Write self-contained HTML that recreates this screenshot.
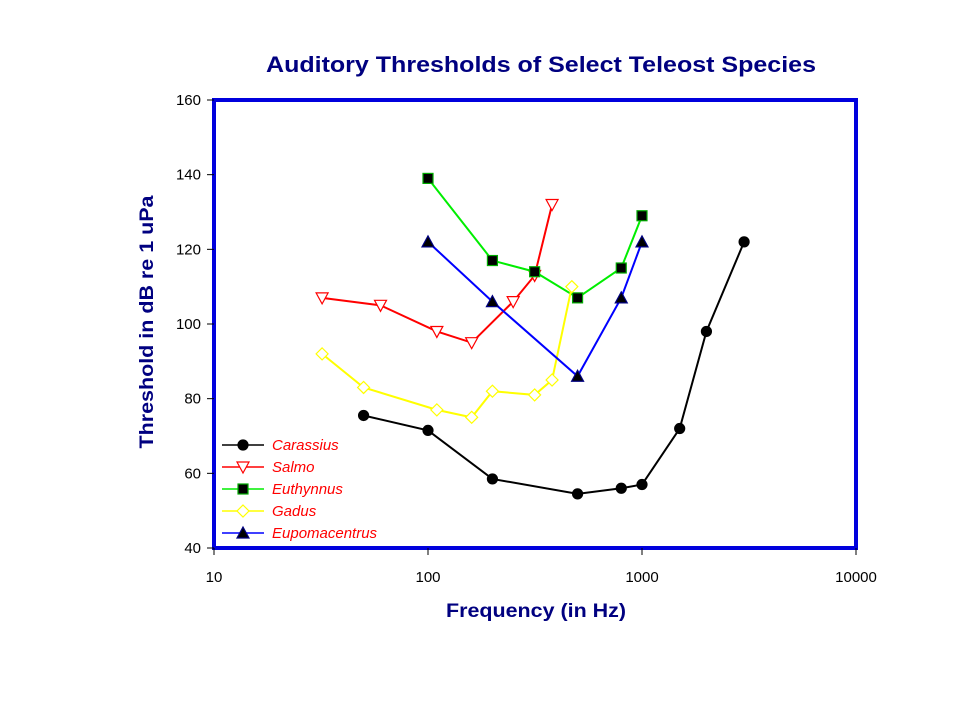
<!DOCTYPE html>
<html><head><meta charset="utf-8"><style>
body{margin:0;background:#fff;}
svg{display:block;font-family:"Liberation Sans",Arial,sans-serif;}
</style></head><body>
<svg id="chart" width="960" height="720">
<text x="541" y="72" text-anchor="middle" font-size="22" font-weight="bold" fill="#000080" textLength="550" lengthAdjust="spacingAndGlyphs">Auditory Thresholds of Select Teleost Species</text>
<text x="536" y="617" text-anchor="middle" font-size="19" font-weight="bold" fill="#000080" textLength="180" lengthAdjust="spacingAndGlyphs">Frequency (in Hz)</text>
<text transform="translate(153,322) rotate(-90)" text-anchor="middle" font-size="19" font-weight="bold" fill="#000080" textLength="253" lengthAdjust="spacingAndGlyphs">Threshold in dB re 1 uPa</text>
<rect x="214" y="100" width="642" height="448" fill="none" stroke="#0000dd" stroke-width="4"/>
<g id="axes"></g><g id="series"></g><g id="legend"></g>
</svg>
<script>
const xTicks=[10,100,1000,10000];
const yTicks=[40,60,80,100,120,140,160];
const seriesNames=["Carassius","Salmo","Euthynnus","Gadus","Eupomacentrus"];
const carassiusF=[50,100,200,500,800,1000,1500,2000,3000];
const carassiusV=[75.5,71.5,58.5,54.5,56,57,72,98,122];
const salmoF=[32,60,110,160,250,315,380];
const salmoV=[107,105,98,95,106,113,132];
const euthynnusF=[100,200,315,500,800,1000];
const euthynnusV=[139,117,114,107,115,129];
const gadusF=[32,50,110,160,200,315,380,470];
const gadusV=[92,83,77,75,82,81,85,110];
const eupoF=[100,200,500,800,1000];
const eupoV=[122,106,86,107,122];

const NS="http://www.w3.org/2000/svg";
const X=f=>214+214*(Math.log10(f)-1);
const Y=v=>548-(v-40)*448/120;
function mk(t,a,p){const e=document.createElementNS(NS,t);for(const k in a)e.setAttribute(k,a[k]);p.appendChild(e);return e;}
const ax=document.getElementById('axes');
xTicks.forEach(t=>{
  const l=mk('line',{x1:X(t),x2:X(t),y1:548,y2:555,stroke:'#000'},ax);
  
  
  const tx=mk('text',{x:X(t),y:582,'text-anchor':'middle','font-size':15},ax);tx.textContent=t;
  
  
});
yTicks.forEach(t=>{
  const l=mk('line',{x1:207,x2:214,y1:Y(t),y2:Y(t),stroke:'#000'},ax);
  
  
  const tx=mk('text',{x:201,y:Y(t)+5,'text-anchor':'end','font-size':15},ax);tx.textContent=t;
  
  
});
const styles=[
 {c:'#000',m:'circle',fill:'#000',stroke:'#000'},
 {c:'#ff0000',m:'tri-down',fill:'#fff',stroke:'#ff0000'},
 {c:'#00ee00',m:'square',fill:'#000',stroke:'#00aa00'},
 {c:'#ffff00',m:'diamond',fill:'#fff',stroke:'#ffff00'},
 {c:'#0000ff',m:'tri-up',fill:'#000',stroke:'#000080'}];
const data=[[carassiusF,carassiusV],[salmoF,salmoV],[euthynnusF,euthynnusV],[gadusF,gadusV],[eupoF,eupoV]];
function marker(s,x,y,p){
  let e;
  if(s.m=='circle')e=mk('circle',{cx:x,cy:y,r:5},p);
  else if(s.m=='square')e=mk('rect',{x:x-5,y:y-5,width:10,height:10},p);
  else if(s.m=='diamond')e=mk('polygon',{points:`${x},${y-6} ${x+6},${y} ${x},${y+6} ${x-6},${y}`},p);
  else if(s.m=='tri-down')e=mk('polygon',{points:`${x-6},${y-5} ${x+6},${y-5} ${x},${y+6}`},p);
  else e=mk('polygon',{points:`${x-6},${y+5} ${x+6},${y+5} ${x},${y-6}`},p);
  e.setAttribute('fill',s.fill);e.setAttribute('stroke',s.stroke);e.setAttribute('stroke-width',1.2);
  return e;
}
const sg=document.getElementById('series');
data.forEach((d,i)=>{
  const s=styles[i];
  const pl=mk('polyline',{points:d[0].map((f,j)=>X(f)+','+Y(d[1][j])).join(' '),fill:'none',stroke:s.c,'stroke-width':2},sg);
  
  
  d[0].forEach((f,j)=>{const m=marker(s,X(f),Y(d[1][j]),sg);
    
    });
});
const lg=document.getElementById('legend');
seriesNames.forEach((n,i)=>{
  const s=styles[i],y=445+i*22;
  const l=mk('line',{x1:222,x2:264,y1:y,y2:y,stroke:s.c,'stroke-width':1.5},lg);
  
  
  const m=marker(s,243,y,lg);
  
  
  const t=mk('text',{x:272,y:y+5,'font-size':15,'font-style':'italic',fill:'#ff0000'},lg);t.textContent=n;
  
  
});
</script>
</body></html>
